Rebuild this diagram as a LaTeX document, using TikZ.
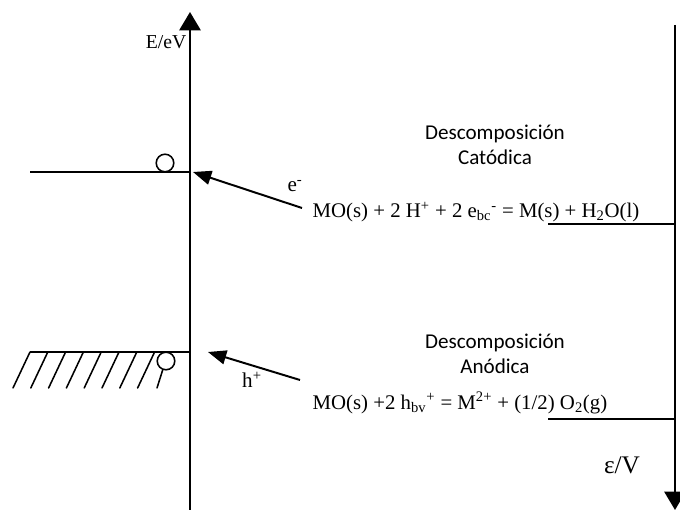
\documentclass[tikz,border=0pt]{standalone}
\usepackage{fontspec}
\setmainfont{Liberation Serif}
\newfontfamily\labelsans{Carlito}
\usetikzlibrary{positioning,arrows.meta}

\begin{document}
\begin{tikzpicture}[
  x=0.025cm, y=-0.025cm,
  axis/.style={draw=black, line width=1.7pt, -{Triangle[width=15pt,length=13pt]}},
  lvl/.style={draw=black, line width=1.3pt},
  hatch/.style={draw=black, line width=1.1pt, line cap=round},
  trans/.style={draw=black, line width=1.4pt, -{Triangle[width=10pt,length=13pt]}},
  carrier/.style={draw=black, line width=1.1pt, fill=white, circle,
                  minimum size=12.5pt, inner sep=0pt},
  eqn/.style={anchor=west, inner sep=1pt, font=\fontsize{14.8}{17}\selectfont},
  title/.style={align=center, inner sep=1pt, font=\labelsans\fontsize{15}{18}\selectfont},
  axlbl/.style={inner sep=1pt, font=\fontsize{14}{16}\selectfont},
]
\useasboundingbox (0,0) rectangle (680,510);

% ---------------- axes ----------------
\coordinate (Ebot) at (190,510);
\coordinate (Etop) at (190,12);
\coordinate (Vtop) at (675,25);
\coordinate (Vbot) at (675,510);
\draw[axis] (Ebot) -- (Etop);
\draw[axis] (Vtop) -- (Vbot);
\node[axlbl, anchor=east] (Elbl) at (188,42) {E/eV};
\node[axlbl, font=\fontsize{18}{20}\selectfont] (Vlbl) at (622,465) {ε/V};

% ---------------- band edges ----------------
\coordinate (cbL) at (30,172);
\coordinate (cbR) at (190,172);
\coordinate (vbL) at (30,352);
\coordinate (vbR) at (190,352);
\draw[lvl] (cbL) -- (cbR);
\draw[lvl] (vbL) -- (vbR);
\foreach \i in {0,...,7}
  \draw[hatch] (30+17.8*\i,352) -- ++(-17,36);
\draw[hatch] (163,369) -- (157,388);
\node[carrier] (elec) at (165,163) {};
\node[carrier] (hole) at (166,361) {};

% ---------------- transfer arrows ----------------
\coordinate (eStart) at (302,208);
\coordinate (eEnd) at (193,172);
\coordinate (hStart) at (300,380);
\coordinate (hEnd) at (208,352);
\draw[trans] (eStart) -- (eEnd);
\draw[trans] (hStart) -- (hEnd);
\node[axlbl, font=\fontsize{15}{17}\selectfont] (eLbl) at (295,186) {e\textsuperscript{-}};
\node[axlbl, font=\fontsize{15}{17}\selectfont] (hLbl) at (252,380) {h\textsuperscript{+}};

% ---------------- cathodic decomposition ----------------
\node[title] (cat) at (495,145) {Descomposición\\Catódica};
\node[eqn] (catEq) at (311,212)
  {MO(s) + 2 H\textsuperscript{+} + 2 e\textsubscript{bc}\textsuperscript{-} = M(s) + H\textsubscript{2}O(l)};
\coordinate (catPot) at (675,224);
\draw[lvl] (catPot) -- ++(-127,0);

% ---------------- anodic decomposition ----------------
\node[title] (ano) at (495,354) {Descomposición\\Anódica};
\node[eqn] (anoEq) at (311,403)
  {MO(s) +2 h\textsubscript{bv}\textsuperscript{+} = M\textsuperscript{2+} + (1/2) O\textsubscript{2}(g)};
\coordinate (anoPot) at (675,419);
\draw[lvl] (anoPot) -- ++(-127,0);

\end{tikzpicture}
\end{document}
